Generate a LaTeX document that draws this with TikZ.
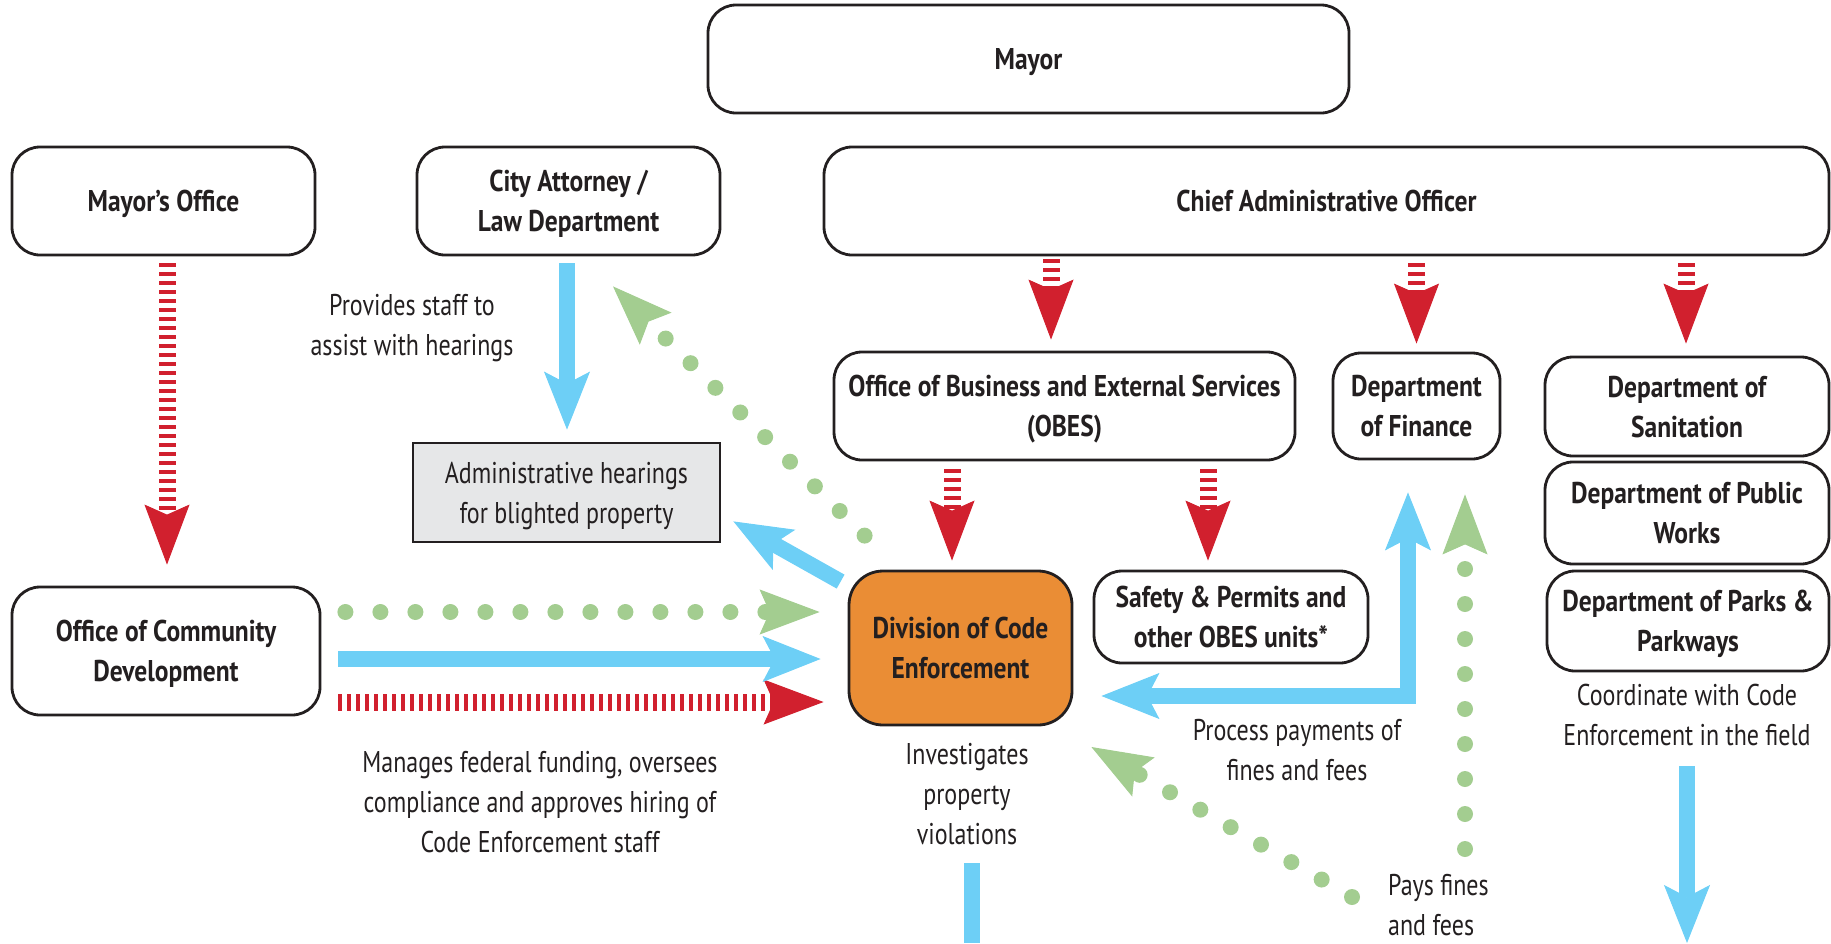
\documentclass[tikz,border=0pt]{standalone}
\usepackage{fontspec}
\setmainfont{PT Sans}[FakeStretch=0.85]
\newfontfamily\notefont{PT Sans}[FakeStretch=0.8]
\usetikzlibrary{arrows.meta,calc}
\definecolor{cblue}{HTML}{6DCFF6}
\definecolor{cred}{HTML}{D1202E}
\definecolor{cgreen}{HTML}{A3CD90}
\definecolor{corange}{HTML}{EA8D35}
\definecolor{cgray}{HTML}{E6E7E8}
\definecolor{ink}{HTML}{231F20}

\begin{document}
\begin{tikzpicture}[x=1pt,y=-1pt,
  font=\notefont\fontsize{30}{40}\selectfont, text=ink,
  orgbox/.style={draw=ink, line width=2.8pt, rounded corners=28pt, fill=white,
    align=center, font=\rmfamily\fontsize{30}{40}\selectfont\bfseries,
    inner sep=0pt, text depth=0pt},
  note/.style={align=center, inner sep=0pt},
  bluetip/.tip={Stealth[length=58pt,width=46pt,inset=12pt,line width=1pt]},
  blueflow/.style={draw=cblue, line width=16pt, line cap=butt, -bluetip},
  bluebar/.style={draw=cblue, line width=16pt, line cap=butt},
  redflow/.style={draw=cred, line width=17pt, dash pattern=on 4pt off 5pt,
    -{Stealth[length=60pt,width=45pt,inset=10pt,line width=1pt]}},
  greenflow/.style={draw=cgreen, line width=16pt, line cap=round,
    dash pattern=on 0pt off 35pt,
    -{Stealth[length=60pt,width=45pt,inset=10pt,line width=1pt]}}
]
\useasboundingbox (0,0) rectangle (1831,943);

% ---- boxes ----
\node[orgbox, minimum width=641pt, minimum height=108pt] (mayor) at (1028.5,59) {Mayor};
\node[orgbox, minimum width=303pt, minimum height=108pt] (mo) at (163.5,201) {Mayor’s Office};
\node[orgbox, minimum width=303pt, minimum height=108pt] (ca) at (568.5,201) {City Attorney /\\Law Department};
\node[orgbox, minimum width=1005pt, minimum height=108pt] (cao) at (1326.5,201) {Chief Administrative Officer};
\node[orgbox, minimum width=461pt, minimum height=108pt] (obes) at (1064.5,406) {Office of Business and External Services\\(OBES)};
\node[orgbox, minimum width=167pt, minimum height=106pt] (fin) at (1416.5,406) {Department\\of Finance};
\node[orgbox, minimum width=284pt, minimum height=99pt] (san) at (1687,406.5) {Department of\\Sanitation};
\node[orgbox, minimum width=284pt, minimum height=102pt] (pw) at (1687,513) {Department of Public\\Works};
\node[orgbox, minimum width=282pt, minimum height=100pt] (parks) at (1688,621) {Department of Parks \&\\Parkways};
\node[orgbox, rounded corners=0pt, fill=cgray, font=\notefont\fontsize{30}{40}\selectfont,
      minimum width=307pt, minimum height=99pt] (hear) at (566.5,492.5) {Administrative hearings\\for blighted property};
\node[orgbox, minimum width=308pt, minimum height=128pt] (ocd) at (166,651) {Office of Community\\Development};
\node[orgbox, fill=corange, rounded corners=34pt, minimum width=223pt, minimum height=154pt] (dce) at (960.5,648) {Division of Code\\Enforcement};
\node[orgbox, minimum width=274pt, minimum height=92pt] (sp) at (1231,617) {Safety \& Permits and\\other OBES units*};

% ---- notes ----
\node[note] (prov) at (412,328) {Provides staff to\\assist with hearings};
\node[note] (mng) at (540,802) {Manages federal funding, oversees\\compliance and approves hiring of\\Code Enforcement staff};
\node[note] (inv) at (967,794) {Investigates\\property\\violations};
\node[note] (proc) at (1297,750) {Process payments of\\fines and fees};
\node[note, align=left, anchor=west] (pays) at (1388,905) {Pays fines\\and fees};
\node[note] (crd) at (1687,715) {Coordinate with Code\\Enforcement in the field};

\coordinate (payup) at (1465,849);
\coordinate (payleft) at (1352,897);
\coordinate (dceout) at (972,943);
\coordinate (parksout) at (1687,943);

% ---- reporting lines (red) ----
\draw[redflow] ($(mo.south)+(3.5,7)$) -- ($(ocd.north)+(1,-21)$);
\draw[redflow] ($(cao.south -| obes.north)+(-13.5,3)$) -- ($(obes.north)+(-13.5,-11)$);
\draw[redflow] ($(cao.south -| fin.north)+(0,7)$) -- ($(fin.north)+(0,-8)$);
\draw[redflow] ($(cao.south -| san.north)+(-1,7)$) -- ($(san.north)+(-1,-12)$);
\draw[redflow] ($(dce.north |- obes.south)+(-8.5,8)$) -- ($(dce.north)+(-8.5,-9)$);
\draw[redflow] ($(sp.north |- obes.south)+(-23,8)$) -- ($(sp.north)+(-23,-9)$);
\draw[redflow] ($(ocd.east)+(17,51)$) -- ($(dce.west)+(-24,54)$);

% ---- services (blue) ----
\draw[blueflow] ($(ca.south)+(-1.5,7)$) -- ($(hear.north)+(0.5,-12)$);
\draw[blueflow] ($(dce.north west)+(-7,12)$) -- ($(hear.south east)+(12,-22)$);
\draw[blueflow] ($(ocd.east)+(17,8)$) -- ($(dce.west)+(-27,11)$);
\draw[bluebar, line join=miter, bluetip-bluetip]
  ($(dce.east)+(28,48)$) -| ($(fin.south)+(-8.5,32)$);
\draw[bluebar] ($(dce.south)+(11.5,137)$) -- (dceout);
\draw[blueflow] ($(parks.south)+(-1,94)$) -- (parksout);

% ---- funding (green) ----
\draw[greenflow] ($(dce.north west)+(17,-34)$) -- ($(ca.south)+(44.5,30)$);
\draw[greenflow] ($(ocd.east)+(24,-39)$) -- ($(dce.west)+(-28,-36)$);
\draw[greenflow] (payup) -- ($(fin.south)+(48.5,34)$);
\draw[greenflow] (payleft) -- ($(dce.east)+(18,99)$);
\end{tikzpicture}
\end{document}
